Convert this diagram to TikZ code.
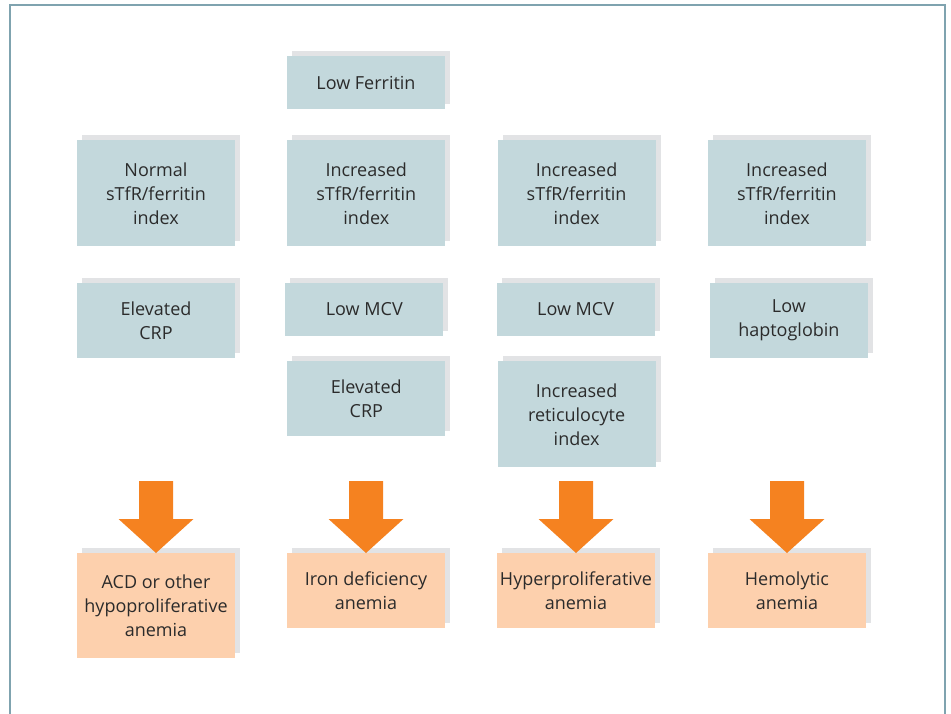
\documentclass[tikz,border=0pt]{standalone}
\usepackage{fontspec}
\setmainfont{Open Sans}
\usetikzlibrary{positioning,shadows}
\definecolor{boxteal}{HTML}{C3D8DC}
\definecolor{boxpeach}{HTML}{FDD0AD}
\definecolor{arroworange}{HTML}{F58220}
\definecolor{shadowgray}{HTML}{E2E3E5}
\definecolor{framegray}{HTML}{7FA3AF}
\definecolor{textgray}{HTML}{2B2B2B}

\begin{document}
\begin{tikzpicture}[x=1pt, y=-1pt,
    finding/.style={fill=boxteal, text=textgray, minimum width=158pt, inner sep=0pt, align=center,
      font=\fontsize{18}{24}\selectfont,
      general shadow={fill=shadowgray, shadow xshift=5pt, shadow yshift=5pt}},
    outcome/.style={finding, fill=boxpeach},
    bigarrow/.style={fill=arroworange}]
        \useasboundingbox (0,0) rectangle (951,714);
        \draw[framegray, line width=2pt] (9.5,714) -- (9.5,5) -- (945,5) -- (945,714);

        \node[finding, minimum height=53pt] (ferritin) at (366,82.5) {Low Ferritin};

        \node[finding, minimum height=106pt] (index1) at (156,193.5) {Normal\\sTfR/ferritin\\index};
        \node[finding, minimum height=106pt, right of=index1, node distance=210.3pt] (index2) {Increased\\sTfR/ferritin\\index};
        \node[finding, minimum height=106pt, right of=index2, node distance=210.3pt] (index3) {Increased\\sTfR/ferritin\\index};
        \node[finding, minimum height=106pt, right of=index3, node distance=210.3pt] (index4) {Increased\\sTfR/ferritin\\index};

        \node[finding, minimum height=75pt, below=36pt of index1] (crp1) {Elevated\\CRP};
        \node[finding, minimum height=53pt, below=36pt of index2, xshift=-2pt] (mcv2) {Low MCV};
        \node[finding, minimum height=53pt, below=36pt of index3, xshift=-1pt] (mcv3) {Low MCV};
        \node[finding, minimum height=75pt, below=36pt of index4, xshift=2pt] (hapto4) {Low\\haptoglobin};

        \node[finding, minimum height=75pt, below=25pt of mcv2, xshift=2pt] (crp2) {Elevated\\CRP};
        \node[finding, minimum height=106pt, below=25pt of mcv3, xshift=1pt] (retic3) {Increased\\reticulocyte\\index};

        \node[outcome, minimum height=105pt, anchor=north] (res1) at (156,553) {ACD or other\\hypoproliferative\\anemia};
        \node[outcome, minimum height=75pt, anchor=north] (res2) at (366,553) {Iron deficiency\\anemia};
        \node[outcome, minimum height=75pt, anchor=north] (res3) at (576,553) {Hyperproliferative\\anemia};
        \node[outcome, minimum height=75pt, anchor=north] (res4) at (787,553) {Hemolytic\\anemia};

        % block arrows into the outcomes
        \foreach \res in {res1,res2,res3,res4}
            \fill[bigarrow] (\res.north) -- ++(-37.5,-34) -- ++(20.5,0) -- ++(0,-38) -- ++(34,0) -- ++(0,38) -- ++(20.5,0) -- cycle;
    \end{tikzpicture}
\end{document}
